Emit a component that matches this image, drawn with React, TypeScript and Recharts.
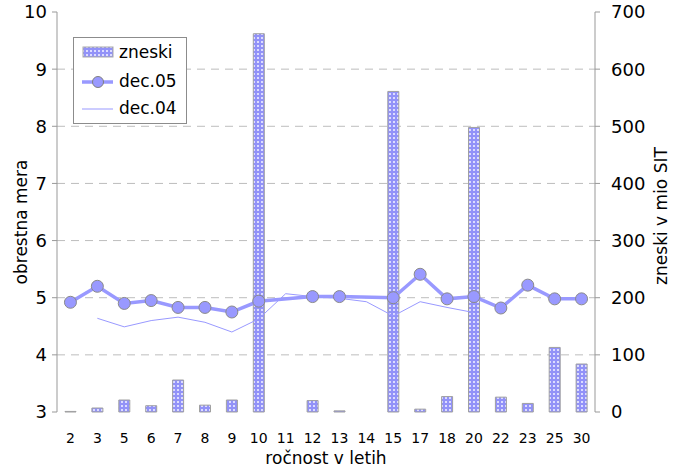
import React from 'react';
import {
  ComposedChart, Bar, Line, XAxis, YAxis, CartesianGrid, Legend,
} from 'recharts';

const categories = ['2', '3', '5', '6', '7', '8', '9', '10', '11', '12', '13', '14', '15', '17', '18', '20', '22', '23', '25', '30'];
const zneski = [1, 7, 21, 11, 56, 12, 21, 662, null, 20, 2, null, 561, 5, 27, 498, 26, 15, 113, 84];
const dec05 = [4.92, 5.2, 4.9, 4.95, 4.83, 4.83, 4.75, 4.94, null, 5.02, 5.02, null, 5.0, 5.41, 4.98, 5.02, 4.82, 5.22, 4.98, 4.98];
const dec04 = [null, 4.64, 4.49, 4.6, 4.66, 4.57, 4.4, 4.63, 5.07, 5.02, 4.99, 4.93, 4.68, 4.93, 4.83, 4.74, null, null, null, null];

const leftTicks = [3, 4, 5, 6, 7, 8, 9, 10];
const rightTicks = [0, 100, 200, 300, 400, 500, 600, 700];
const gridValues = [4, 5, 6, 7, 8, 9];
const boundaryTicks = Array.from({ length: categories.length + 1 }, (_, i) => i);

const seriesNames = { bar: 'zneski', thick: 'dec.05', thin: 'dec.04' };

const data = categories.map((c, i) => ({
  cat: c,
  zneski: zneski[i],
  dec05: dec05[i],
  dec04: dec04[i],
}));

const COLOR = '#9999ff';
const FONT = 'DejaVu Sans';
const AXIS = '#999999';

const LegendBox = () => (
  <svg width={114} height={87} style={{ display: 'block', fontFamily: FONT }}>
    <defs>
      <pattern id="dotsL" width="4" height="4" patternUnits="userSpaceOnUse">
        <rect width="4" height="4" fill="#9292f8" />
        <rect x="1" y="1" width="2" height="2" fill="#dcdcff" />
      </pattern>
    </defs>
    <rect x={0.5} y={0.5} width={113} height={86} fill="#fff" stroke="#8c8c8c" />
    <rect x={10} y={10} width={30} height={10} fill="url(#dotsL)" stroke="#aaa" />
    <text x={46} y={21} fontSize={17} fill="#000">{seriesNames.bar}</text>
    <line x1={9} x2={40} y1={45} y2={45} stroke={COLOR} strokeWidth={3.5} />
    <circle cx={25} cy={45} r={5.5} fill={COLOR} stroke="#808080" />
    <text x={46} y={50} fontSize={17} fill="#000">{seriesNames.thick}</text>
    <line x1={9} x2={40} y1={72} y2={72} stroke={COLOR} strokeWidth={1} />
    <text x={46} y={77} fontSize={17} fill="#000">{seriesNames.thin}</text>
  </svg>
);

export default function App() {
  return (
    <div style={{ position: 'absolute', left: 0, top: 0, width: 680, height: 473, background: '#fff' }}>
      <ComposedChart
        width={680}
        height={473}
        data={data}
        margin={{ top: 12, right: 0, bottom: 31, left: 0 }}
        style={{ fontFamily: FONT }}
      >
        <defs>
          <pattern id="dots" width="4" height="4" patternUnits="userSpaceOnUse">
            <rect width="4" height="4" fill="#9292f8" />
            <rect x="1" y="1" width="2" height="2" fill="#dcdcff" />
          </pattern>
        </defs>
        <CartesianGrid
          yAxisId="left"
          xAxisId="cat"
          vertical={false}
          horizontalValues={gridValues}
          stroke="#bdbdbd"
          strokeDasharray="8 6"
        />
        <XAxis
          xAxisId="tick"
          type="number"
          domain={[0, categories.length]}
          allowDataOverflow
          ticks={boundaryTicks}
          tickFormatter={() => ''}
          height={0}
          tickSize={5}
          stroke={AXIS}
          tickLine={{ stroke: AXIS }}
          axisLine={{ stroke: AXIS }}
        />
        <XAxis
          xAxisId="cat"
          dataKey="cat"
          height={30}
          axisLine={false}
          tickLine={false}
          tickSize={0}
          tickMargin={21}
          interval={0}
          tick={{ fontSize: 14, fill: '#000', fontFamily: FONT }}
          label={{ value: 'ročnost v letih', position: 'bottom', offset: 10, fontSize: 17, fill: '#000', fontFamily: FONT }}
        />
        <YAxis
          yAxisId="left"
          domain={[3, 10]}
          ticks={leftTicks}
          width={57}
          tickSize={5}
          tickMargin={5}
          stroke={AXIS}
          tick={{ fontSize: 18, fill: '#000', fontFamily: FONT }}
          label={{ value: 'obrestna mera', angle: -90, position: 'center', dx: -8, dy: 10, fontSize: 17, fill: '#000', fontFamily: FONT }}
        />
        <YAxis
          yAxisId="right"
          orientation="right"
          domain={[0, 700]}
          ticks={rightTicks}
          width={85}
          tickSize={5}
          tickMargin={11}
          stroke={AXIS}
          tick={{ fontSize: 18, fill: '#000', fontFamily: FONT, textAnchor: 'start' }}
          label={{ value: 'zneski v mio SIT', angle: -90, position: 'center', dx: 23, dy: 4, fontSize: 17, fill: '#000', fontFamily: FONT }}
        />
        <Legend
          layout="horizontal"
          verticalAlign="middle"
          align="center"
          content={() => <LegendBox />}
          wrapperStyle={{ left: 73, top: 37, width: 114, height: 87 }}
        />
        <Bar
          xAxisId="cat"
          yAxisId="right"
          dataKey="zneski"
          name={seriesNames.bar}
          barSize={11}
          fill="url(#dots)"
          stroke="#a0a0a0"
          strokeWidth={1}
          isAnimationActive={false}
        />
        <Line
          xAxisId="cat"
          yAxisId="left"
          dataKey="dec04"
          name={seriesNames.thin}
          stroke={COLOR}
          strokeWidth={1}
          dot={false}
          activeDot={false}
          connectNulls
          isAnimationActive={false}
        />
        <Line
          xAxisId="cat"
          yAxisId="left"
          dataKey="dec05"
          name={seriesNames.thick}
          stroke={COLOR}
          strokeWidth={3.5}
          dot={{ r: 6, fill: COLOR, stroke: '#8a8a8a', strokeWidth: 1 }}
          activeDot={false}
          connectNulls
          isAnimationActive={false}
        />
      </ComposedChart>
    </div>
  );
}
